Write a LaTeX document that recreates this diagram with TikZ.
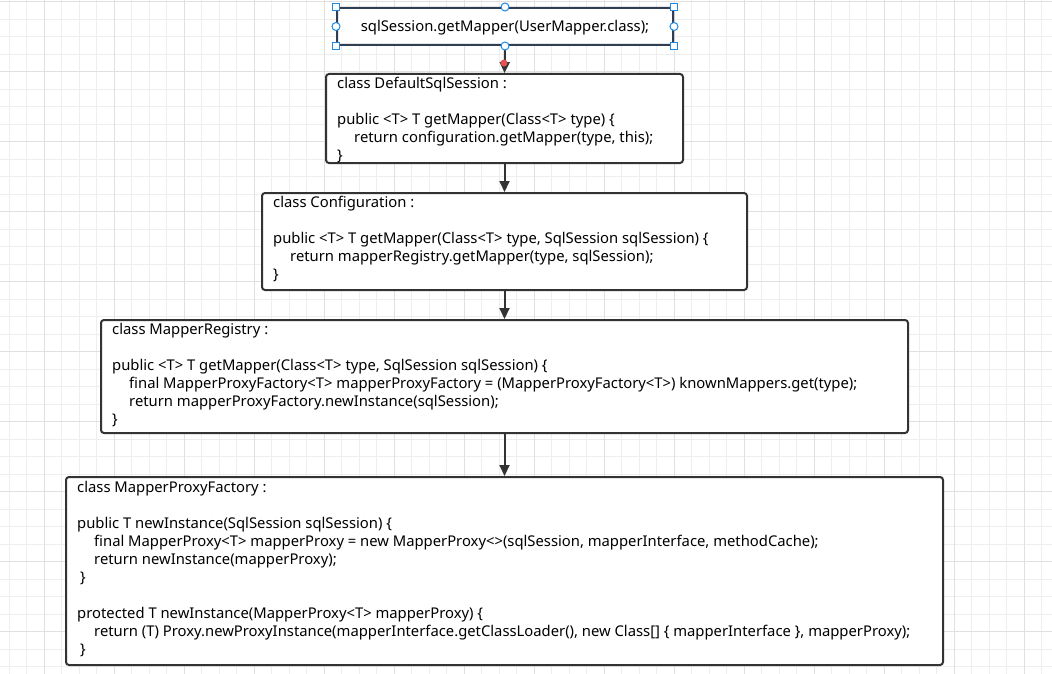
\documentclass[tikz,border=0pt]{standalone}
\usepackage{fontspec}
\setmainfont{Noto Sans}
\usetikzlibrary{arrows.meta}
\definecolor{gridminor}{RGB}{238,238,238}
\definecolor{gridmajor}{RGB}{224,224,224}
\definecolor{boxline}{RGB}{51,51,51}
\definecolor{selline}{RGB}{48,62,82}
\definecolor{selblue}{RGB}{30,136,229}
\definecolor{tipred}{RGB}{226,82,82}
\newcommand{\ind}{\hspace*{17pt}}

\tikzset{
    classbox/.style={draw=boxline, line width=2pt, rounded corners=3pt, fill=white, inner sep=0pt, anchor=north west},
    codetext/.style={anchor=north west, inner sep=0pt, align=left, font=\fontsize{14.8}{18}\selectfont},
    flow/.style={draw=boxline, line width=2pt, -{Triangle[width=10pt,length=11pt]}},
    handlesq/.style={draw=selblue, fill=white, line width=1pt, minimum size=7pt, inner sep=0pt},
    handlecirc/.style={draw=selblue, fill=white, line width=1pt, circle, minimum size=8pt, inner sep=0pt},
}

\begin{document}
\begin{tikzpicture}[x=1pt, y=-1pt]
        \useasboundingbox (0,0) rectangle (1052,674);
        \fill[white] (0,0) rectangle (1052,674);
        \foreach \x in {9.3,26.8,...,1052} \draw[gridminor, line width=1pt] (\x,0) -- (\x,674);
        \foreach \y in {1.7,19.2,...,674} \draw[gridminor, line width=1pt] (0,\y) -- (1052,\y);
        \foreach \x in {44.3,114.3,...,1052} \draw[gridmajor, line width=1pt] (\x,0) -- (\x,674);
        \foreach \y in {1.7,71.7,...,674} \draw[gridmajor, line width=1pt] (0,\y) -- (1052,\y);

        \node[classbox, draw=selline, rounded corners=1pt, minimum width=336pt, minimum height=37pt] (call) at (336,7) {};
        \node[font=\fontsize{14.8}{18}\selectfont, inner sep=0pt] (call-txt) at ([yshift=-1pt]call.center) {sqlSession.getMapper(UserMapper.class);};

        \node[classbox, minimum width=357pt, minimum height=89pt] (dss) at (325,73) {};
        \node[codetext] (dss-txt) at ([xshift=12pt,yshift=-4pt]dss.north west) {class DefaultSqlSession :\\[18pt]
            public <T> T getMapper(Class<T> type) \{\\
            \ind return configuration.getMapper(type, this);\\
            \}};

        \node[classbox, minimum width=485pt, minimum height=97pt] (cfg) at (261,192) {};
        \node[codetext] (cfg-txt) at ([xshift=12pt,yshift=-4pt]cfg.north west) {class Configuration :\\[18pt]
            public <T> T getMapper(Class<T> type, SqlSession sqlSession) \{\\
            \ind return mapperRegistry.getMapper(type, sqlSession);\\
            \}};

        \node[classbox, minimum width=807pt, minimum height=113pt] (reg) at (100,319) {};
        \node[codetext] (reg-txt) at ([xshift=12pt,yshift=-4pt]reg.north west) {class MapperRegistry :\\[18pt]
            public <T> T getMapper(Class<T> type, SqlSession sqlSession) \{\\
            \ind final MapperProxyFactory<T> mapperProxyFactory = (MapperProxyFactory<T>) knownMappers.get(type);\\
            \ind return mapperProxyFactory.newInstance(sqlSession);\\
            \}};

        \node[classbox, minimum width=877pt, minimum height=188pt] (mpf) at (65,476) {};
        \node[codetext] (mpf-txt) at ([xshift=12pt,yshift=-5pt]mpf.north west) {class MapperProxyFactory :\\[18pt]
            public T newInstance(SqlSession sqlSession) \{\\
            \ind final MapperProxy<T> mapperProxy = new MapperProxy<>(sqlSession, mapperInterface, methodCache);\\
            \ind return newInstance(mapperProxy);\\
            \hspace*{3pt}\}\\[18pt]
            protected T newInstance(MapperProxy<T> mapperProxy) \{\\
            \ind return (T) Proxy.newProxyInstance(mapperInterface.getClassLoader(), new Class[] \{ mapperInterface \}, mapperProxy);\\
            \hspace*{3pt}\}};

        \draw[flow] (call.south) -- (dss.north);
        \draw[flow] (dss.south) -- (cfg.north);
        \draw[flow] (cfg.south) -- (reg.north);
        \draw[flow] (reg.south) -- (mpf.north);
        \fill[tipred] (504,63) circle (3.5pt);

        \foreach \a in {north west,north east,south west,south east}
            \node[handlesq] at (call.\a) {};
        \foreach \a in {north,south,west,east}
            \node[handlecirc] at (call.\a) {};
    \end{tikzpicture}
\end{document}
